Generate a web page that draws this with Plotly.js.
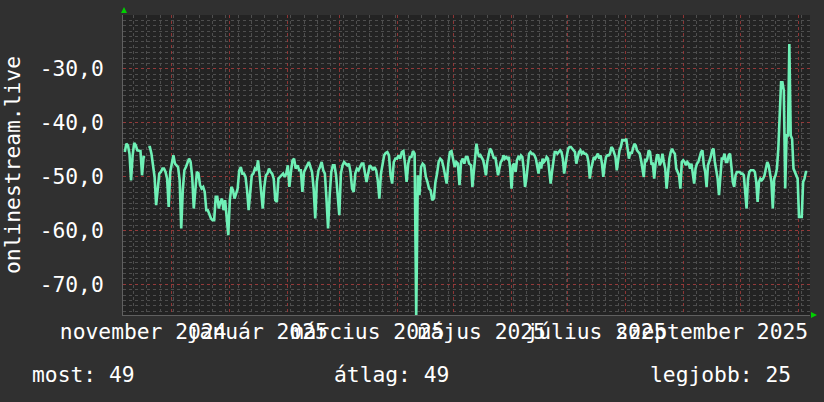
<!DOCTYPE html>
<html><head><meta charset="utf-8">
<script src="https://cdn.plot.ly/plotly-3.0.1.min.js"></script>
<style>html,body{margin:0;padding:0;background:#303030;}#chart{width:824px;height:402px;}</style>
</head><body><div id="chart"></div>
<script>
// Daily-ish samples, split into four time spans
const seg1 = [-45.44,-43.90,-44.20,-45.75,-50.69,-46.06,-43.77,-44.20,-45.13,-45.25,-45.25,-49.76,-46.36,-46.36,null,-44.51,-44.51,-45.75,-47.60,-50.07,-55.31,-51.61,-49.45,-49.14,-48.52,-48.52,-49.14,-50.38,-55.62,-49.14,-47.29,-46.06,-47.60,-47.91,-48.22,-50.69,-59.63,-52.54,-48.83,-48.22,-47.29,-46.67,-47.29,-50.07,-55.93,-52.54,-49.14,-49.45,-51.61,-52.23,-51.92,-52.85,-56.24,-56.24,-57.17,-57.78,-58.09,-58.09,-53.77,-53.77,-55.93,-54.70,-54.08,-56.24,-54.39,-57.17,-60.87,-54.39,-51.92,-52.54,-54.08,-53.15,-52.23,-48.83,-48.22,-49.45,-49.45,-50.07,-52.54,-56.24,-52.54,-49.76,-49.45,-48.52,-48.83,-46.98,-49.76,-53.15,-55.93,-51.92,-49.76,-49.45,-48.52,-49.14,-49.45,-50.38,-54.39,-54.70,-50.38,-50.07,-49.76,-49.45,-50.07,-49.45,-47.91,-51.92,-49.14,-46.98,-46.67,-48.52];
const seg2 = [-47.91,-48.83,-48.83,-52.85,-49.14,-48.52,-48.22,-47.29,-48.22,-49.14,-52.23,-57.78,-50.99,-48.83,-48.22,-47.29,-48.83,-49.45,-54.08,-59.63,-53.46,-49.14,-47.91,-47.91,-49.76,-52.85,-57.17,-49.45,-47.91,-47.29,-47.60,-47.91,-47.60,-49.14,-52.23,-52.85,-49.45,-48.52,-48.83,-48.22,-47.60,-47.60,-49.14,-50.99,-49.45,-47.91,-48.22,-48.83,-48.22,-48.83,-50.69,-54.08,-49.45,-47.29,-46.06,-45.62,-45.44,-46.06,-49.76,-51.30,-47.29,-46.67,-46.67,-46.06,-46.67,-45.44,-45.25,-47.60,-50.99,-47.60,-46.36,-46.36,-45.25,-45.75,-76.00,-49.76,-53.46,-48.22,-47.60,-47.91,-50.07,-50.99,-52.23,-52.54,-54.39,-54.08,-50.99,-49.45,-47.29,-46.67,-46.98,-48.22,-49.76,-51.30,-47.60,-45.44,-45.25,-46.67,-48.22,-47.29,-47.60,-51.61,-47.29,-46.67,-47.60,-46.36,-46.36,-47.60];
const seg3 = [-47.91,-51.92,-49.14,-46.06,-43.90,-45.44,-46.36,-46.06,-46.67,-46.98,-48.22,-49.76,-47.29,-45.75,-44.82,-45.13,-46.06,-46.67,-46.36,-47.91,-49.76,-48.52,-47.29,-46.98,-46.06,-46.67,-46.36,-46.67,-46.36,-48.52,-52.23,-47.91,-47.60,-49.14,-46.98,-46.36,-46.67,-46.06,-46.36,-48.52,-51.92,-50.38,-47.91,-45.75,-45.44,-45.75,-45.75,-46.06,-46.67,-48.52,-49.45,-47.29,-48.52,-46.67,-47.29,-46.98,-46.36,-46.67,-48.52,-51.30,-49.14,-46.67,-45.44,-45.44,-45.75,-45.44,-45.13,-45.44,-46.67,-49.45,-47.29,-46.06,-44.82,-44.51,-44.51,-44.82,-45.13,-45.44,-47.60,-46.67,-45.44,-45.13,-45.75,-45.44,-45.75,-45.75,-46.06,-47.29,-50.38,-48.52,-47.29,-46.36,-46.67,-46.06,-45.75,-46.67,-46.06,-47.60,-50.07,-47.91,-46.36,-46.06,-46.06,-45.75,-44.51,-44.82,-45.75,-46.36,-48.83,-47.29,-45.13,-44.51,-43.28,-43.28,-43.28,-42.97,-44.82,-46.67,-45.44,-45.75,-44.82,-43.90,-44.20,-45.13,-45.44,-45.75,-46.98,-48.52,-50.07,-46.67];
const seg4 = [-47.29,-46.67,-45.13,-45.44,-47.60,-47.60,-50.38,-47.60,-46.06,-46.06,-47.91,-47.29,-45.75,-47.29,-48.52,-52.23,-48.52,-46.67,-45.44,-44.82,-45.44,-45.75,-48.52,-49.14,-49.76,-52.23,-47.29,-46.98,-47.29,-47.91,-47.29,-47.60,-48.52,-47.60,-49.76,-51.30,-48.52,-47.60,-47.29,-46.06,-45.44,-45.13,-47.91,-49.14,-51.92,-47.91,-47.29,-46.36,-45.13,-44.82,-47.29,-48.52,-50.38,-53.46,-49.76,-46.67,-46.67,-45.75,-47.29,-47.29,-46.06,-45.75,-48.22,-50.99,-51.92,-49.76,-49.14,-49.14,-49.14,-49.45,-49.45,-49.76,-52.23,-55.93,-50.38,-49.14,-48.83,-48.83,-48.83,-49.14,-50.99,-54.70,-50.99,-50.38,-50.69,-50.38,-49.76,-48.52,-47.29,-47.91,-49.76,-50.99,-55.93,-50.38,-49.76,-48.52,-44.82,-39.26,-32.48,-32.48,-34.02,-52.23,-42.35,-42.35,-25.38,-42.35,-42.97,-48.52,-49.14,-50.07,-50.38,-57.48,-57.48,-57.48,-50.99,-50.38,-49.14,-49.14];
const segStart = ["2024-11-06T04:00:00Z","2025-02-06T13:00:00Z","2025-05-10T06:00:00Z","2025-08-11T17:00:00Z"];
const segEnd   = ["2025-02-05T12:00:00Z","2025-05-09T05:00:00Z","2025-08-11T07:00:00Z","2025-11-05T23:00:00Z"];

const xRange = ["2024-11-05 05:00","2025-11-07 10:00"];
const yRange = [-75.7, -20];
const yTickVals = [-70, -60, -50, -40, -30];
const yTickText = ["-70,0", "-60,0", "-50,0", "-40,0", "-30,0"];
const monthLabelDates = ["2024-11-16","2025-01-16","2025-03-16","2025-05-16","2025-07-16","2025-09-16"];
const monthLabels = ["november 2024","január 2025","március 2025","május 2025","július 2025","szeptember 2025"];
const yTitle = "onlinestream.live";
const statLabels = ["most: 49", "átlag: 49", "legjobb: 25"];

function fmt(ms){ return new Date(ms).toISOString().replace('T',' ').slice(0,19); }
const segs = [seg1, seg2, seg3, seg4];
let xs = [], ys = [];
segs.forEach((s,k)=>{
  const a = Date.parse(segStart[k]), b = Date.parse(segEnd[k]);
  const n = s.length;
  s.forEach((v,i)=>{ xs.push(fmt(a + i*(b-a)/(n-1))); ys.push(v); });
});

const W=824, H=402, L=123, R=14, T=15, B=87;
const plotW = W-L-R, plotH = H-T-B;
const px = x => (x - L)/plotW;
const py = y => (H - B - y)/plotH;
const FONT = "DejaVu Sans Mono";
const FS = 21.3;

const traces = [
  {x: xs, y: ys, type:'scatter', mode:'lines', line:{color:'#6ff0b6', width:2.6}, connectgaps:false, hoverinfo:'skip'},
  {x: [], y: [], type:'scatter', mode:'lines', xaxis:'x2', hoverinfo:'skip'}
];

const layout = {
  width:W, height:H,
  margin:{l:L, r:R, t:T, b:B, pad:0},
  paper_bgcolor:'#303030', plot_bgcolor:'#232323',
  font:{family:FONT, color:'#ffffff', size:FS},
  showlegend:false,
  xaxis:{type:'date', range:xRange, showticklabels:false, dtick:'M1', tick0:'2024-12-01',
    showgrid:true, gridcolor:'rgba(160,55,55,0.85)', griddash:'dot', gridwidth:1,
    ticks:'', zeroline:false, showline:true, linecolor:'#606060', linewidth:1,
    minor:{dtick:604800000, tick0:'2024-11-04', showgrid:true, gridcolor:'#4e4e4e', griddash:'dot', gridwidth:1}},
  xaxis2:{type:'date', overlaying:'x', anchor:'y', side:'bottom', range:xRange, tickmode:'array',
    tickvals:monthLabelDates, ticktext:monthLabels, showgrid:false, zeroline:false, ticks:'', showline:false,
    tickangle:0, tickfont:{family:FONT, size:FS, color:'#ffffff'}, ticklabelstandoff:2},
  yaxis:{range:yRange, tickmode:'array', tickvals:yTickVals, ticktext:yTickText,
    showgrid:true, gridcolor:'rgba(160,55,55,0.85)', griddash:'dot', gridwidth:1, zeroline:false,
    showline:true, linecolor:'#606060', linewidth:1, ticks:'', ticklabelstandoff:14,
    tickfont:{family:FONT, size:FS, color:'#ffffff'},
    minor:{dtick:1, tick0:0, showgrid:true, gridcolor:'#4e4e4e', griddash:'dot', gridwidth:1},
    title:{text:yTitle, font:{family:FONT, size:FS, color:'#ffffff'}, standoff:24}},
  shapes:[
    {type:'path', xref:'paper', yref:'paper', path:`M ${px(121)} ${py(13)} L ${px(127)} ${py(13)} L ${px(124)} ${py(7)} Z`, fillcolor:'#00d000', line:{width:0}},
    {type:'path', xref:'paper', yref:'paper', path:`M ${px(811)} ${py(312)} L ${px(811)} ${py(318)} L ${px(817)} ${py(315)} Z`, fillcolor:'#00d000', line:{width:0}}
  ],
  annotations:[
    {text:statLabels[0], xref:'paper', yref:'paper', x:px(30), y:py(374), xanchor:'left', yanchor:'middle', showarrow:false, font:{family:FONT,size:FS,color:'#ffffff'}},
    {text:statLabels[1], xref:'paper', yref:'paper', x:px(332), y:py(374), xanchor:'left', yanchor:'middle', showarrow:false, font:{family:FONT,size:FS,color:'#ffffff'}},
    {text:statLabels[2], xref:'paper', yref:'paper', x:px(648), y:py(374), xanchor:'left', yanchor:'middle', showarrow:false, font:{family:FONT,size:FS,color:'#ffffff'}}
  ]
};
Plotly.newPlot('chart', traces, layout, {staticPlot:true, displayModeBar:false});
</script></body></html>
